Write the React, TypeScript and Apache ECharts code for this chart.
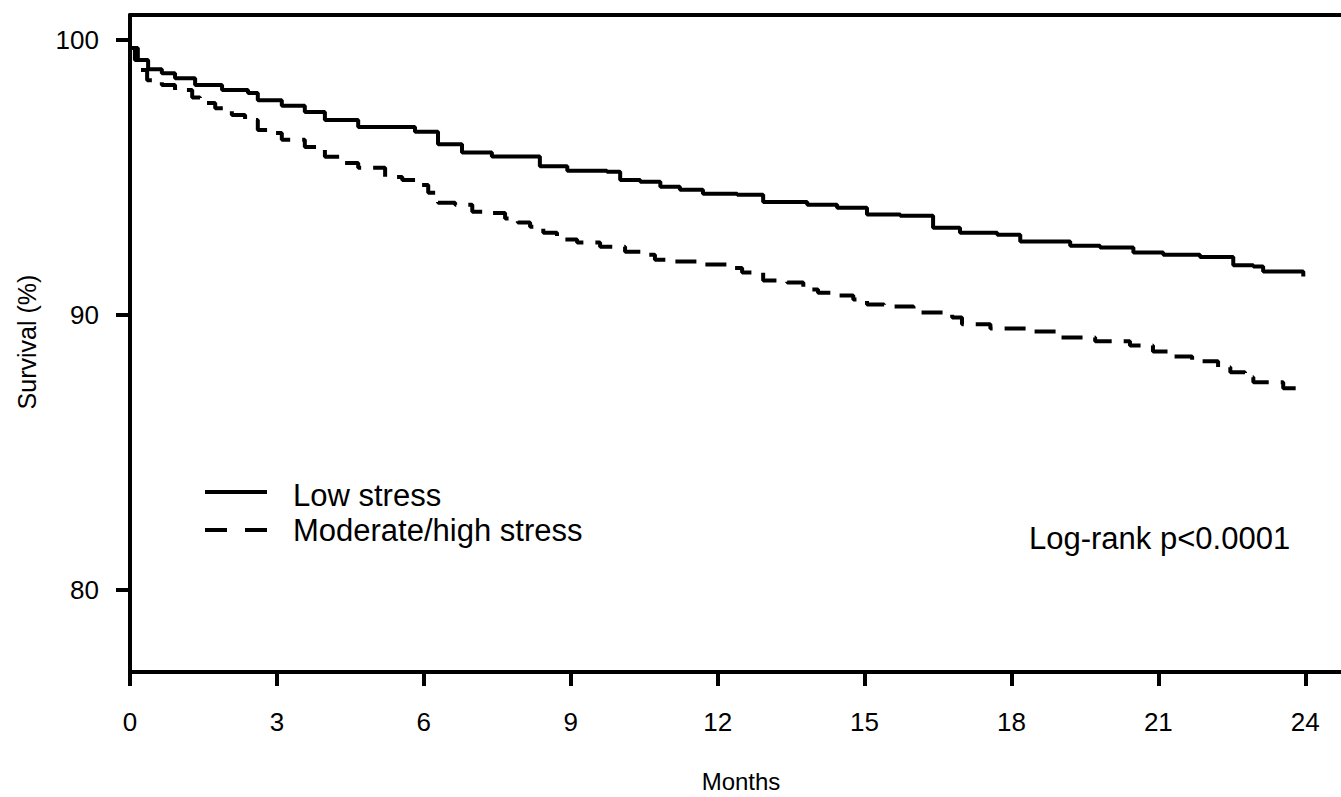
import React, { useEffect, useRef } from "react";
import * as echarts from "echarts";

// Kaplan–Meier survival estimates (months, survival %)
const lowStressMonths = [0, 0.1, 0.37, 0.65, 0.92, 1.33, 1.88, 2.41, 2.61, 3.1, 3.57, 3.98, 4.66, 5.82, 6.29, 6.78, 7.39, 8.37, 8.93, 9.74, 10.01, 10.42, 10.83, 11.23, 11.7, 12.4, 12.93, 13.83, 14.44, 15.05, 15.73, 16.4, 16.95, 17.71, 18.18, 19.2, 19.81, 20.49, 21.1, 21.85, 22.53, 22.94, 23.14, 23.96];
const lowStressSurvival = [99.7, 99.26, 98.93, 98.78, 98.6, 98.35, 98.17, 98.06, 97.8, 97.6, 97.37, 97.08, 96.83, 96.65, 96.2, 95.9, 95.75, 95.4, 95.23, 95.2, 94.9, 94.83, 94.65, 94.54, 94.4, 94.36, 94.1, 94.0, 93.89, 93.64, 93.6, 93.16, 92.98, 92.91, 92.66, 92.51, 92.44, 92.26, 92.18, 92.1, 91.8, 91.75, 91.57, 91.39];

const highStressMonths = [0, 0.16, 0.35, 0.65, 0.92, 1.27, 1.43, 1.74, 2.08, 2.35, 2.61, 2.9, 3.1, 3.57, 3.98, 4.33, 4.66, 5.21, 5.56, 5.88, 6.09, 6.29, 6.64, 6.99, 7.25, 7.66, 7.92, 8.17, 8.44, 8.72, 9.13, 9.6, 10.11, 10.46, 10.72, 11.13, 11.64, 12.19, 12.5, 12.93, 13.42, 13.75, 14.05, 14.44, 14.77, 15.05, 15.4, 16.0, 16.79, 16.99, 17.57, 18.34, 18.97, 19.71, 20.42, 20.89, 21.2, 21.69, 22.22, 22.47, 22.77, 22.94, 23.55, 23.84];
const highStressSurvival = [99.7, 98.9, 98.53, 98.35, 98.17, 97.9, 97.7, 97.51, 97.26, 97.08, 96.72, 96.61, 96.36, 96.1, 95.74, 95.52, 95.34, 95.01, 94.9, 94.72, 94.43, 94.07, 94.0, 93.74, 93.7, 93.5, 93.35, 93.2, 92.98, 92.73, 92.62, 92.47, 92.29, 92.18, 92.0, 91.93, 91.82, 91.7, 91.53, 91.24, 91.17, 90.91, 90.8, 90.7, 90.55, 90.37, 90.3, 90.08, 89.9, 89.65, 89.5, 89.39, 89.17, 89.03, 88.88, 88.66, 88.48, 88.3, 88.09, 87.9, 87.72, 87.54, 87.32, 87.32];

const monthTicks = [0, 3, 6, 9, 12, 15, 18, 21, 24];
const survivalTicks = [80, 90, 100];

const seriesNames = ["Low stress", "Moderate/high stress"];
const xAxisTitle = "Months";
const yAxisTitle = "Survival (%)";
const annotation = "Log-rank p<0.0001";

const FONT = "'Liberation Sans', Arial, Helvetica, sans-serif";

function pairs(xs: number[], ys: number[]) {
  return xs.map((x, i) => [x, ys[i]]);
}

export default function App() {
  const ref = useRef<HTMLDivElement>(null);

  useEffect(() => {
    if (!ref.current) return;
    const chart = echarts.init(ref.current, undefined, { renderer: "svg" });

    const axisLine = { show: true, lineStyle: { color: "#000", width: 4 } };
    const axisTick = { show: true, length: 14, inside: false, lineStyle: { color: "#000", width: 4 } };

    chart.setOption({
      animation: false,
      backgroundColor: "#fff",
      grid: { left: 130, right: 0, top: 15, bottom: 125, containLabel: false },
      xAxis: [
        {
          type: "value",
          min: 0,
          max: 24.73,
          axisLine: { ...axisLine, onZero: false },
          axisTick: { ...axisTick, customValues: monthTicks },
          axisLabel: {
            customValues: monthTicks,
            color: "#000",
            fontSize: 26,
            fontFamily: FONT,
            margin: 37,
          },
          splitLine: { show: false },
        },
        {
          type: "value",
          position: "top",
          min: 0,
          max: 24.73,
          axisLine: { ...axisLine, onZero: false },
          axisTick: { show: false },
          axisLabel: { show: false },
          splitLine: { show: false },
        },
      ],
      yAxis: {
        type: "value",
        min: 77,
        max: 100.9,
        axisLine: { ...axisLine, onZero: false },
        axisTick: { ...axisTick, customValues: survivalTicks },
        axisLabel: {
          customValues: survivalTicks,
          color: "#000",
          fontSize: 26,
          fontFamily: FONT,
          margin: 31,
        },
        splitLine: { show: false },
      },
      series: [
        {
          name: seriesNames[0],
          type: "line",
          step: "end",
          symbol: "none",
          data: pairs(lowStressMonths, lowStressSurvival),
          lineStyle: { color: "#000", width: 4, type: "solid" },
        },
        {
          name: seriesNames[1],
          type: "line",
          step: "end",
          symbol: "none",
          data: pairs(highStressMonths, highStressSurvival),
          lineStyle: { color: "#000", width: 4, type: [21, 12] },
        },
      ],
      graphic: [
        {
          type: "line",
          shape: { x1: 205, y1: 492, x2: 267, y2: 492 },
          style: { stroke: "#000", lineWidth: 4 },
        },
        {
          type: "line",
          shape: { x1: 205, y1: 530, x2: 267, y2: 530 },
          style: { stroke: "#000", lineWidth: 4, lineDash: [22, 18] },
        },
        {
          type: "text",
          x: 293,
          y: 495,
          style: { text: seriesNames[0], font: `31px ${FONT}`, fill: "#000", verticalAlign: "middle" },
        },
        {
          type: "text",
          x: 293,
          y: 530,
          style: { text: seriesNames[1], font: `31px ${FONT}`, fill: "#000", verticalAlign: "middle" },
        },
        {
          type: "text",
          x: 1029,
          y: 538,
          style: { text: annotation, font: `31px ${FONT}`, fill: "#000", verticalAlign: "middle" },
        },
        {
          type: "text",
          x: 741,
          y: 781,
          style: { text: xAxisTitle, font: `24px ${FONT}`, fill: "#000", align: "center", verticalAlign: "middle" },
        },
        {
          type: "text",
          x: 27,
          y: 342,
          rotation: Math.PI / 2,
          style: { text: yAxisTitle, font: `25px ${FONT}`, fill: "#000", align: "center", verticalAlign: "middle" },
        },
      ],
    });

    return () => chart.dispose();
  }, []);

  return (
    <div
      ref={ref}
      style={{ position: "fixed", left: 0, top: 0, width: 1341, height: 797, background: "#fff" }}
    />
  );
}
